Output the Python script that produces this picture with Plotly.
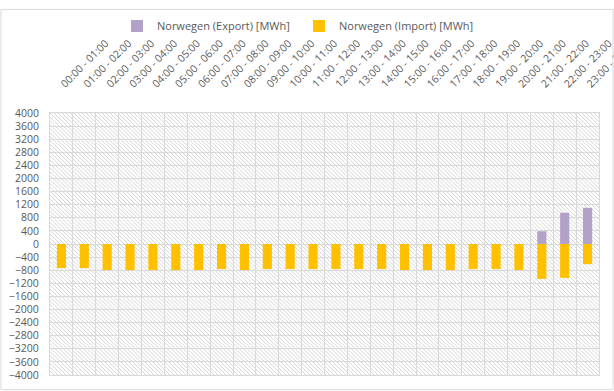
import base64
import plotly.graph_objects as go

hours = ["00:00 - 01:00", "01:00 - 02:00", "02:00 - 03:00", "03:00 - 04:00",
         "04:00 - 05:00", "05:00 - 06:00", "06:00 - 07:00", "07:00 - 08:00",
         "08:00 - 09:00", "09:00 - 10:00", "10:00 - 11:00", "11:00 - 12:00",
         "12:00 - 13:00", "13:00 - 14:00", "14:00 - 15:00", "15:00 - 16:00",
         "16:00 - 17:00", "17:00 - 18:00", "18:00 - 19:00", "19:00 - 20:00",
         "20:00 - 21:00", "21:00 - 22:00", "22:00 - 23:00", "23:00 - 24:00"]

export_mwh = [0, 0, 0, 0, 0, 0, 0, 0, 0, 0, 0, 0,
              0, 0, 0, 0, 0, 0, 0, 0, 0, 390, 955, 1105]
import_mwh = [-735, -735, -795, -795, -795, -795, -795, -765,
              -795, -765, -765, -765, -765, -765, -765, -795,
              -795, -795, -765, -765, -795, -1065, -1035, -615]

y_ticks = list(range(-4000, 4001, 400))

# hatched plot-area background (Excel "light downward diagonal")
svg = ('<svg xmlns="http://www.w3.org/2000/svg" width="549" height="268" '
       'viewBox="0 0 549 268" preserveAspectRatio="none">'
       '<defs><pattern id="p" width="4" height="4" patternUnits="userSpaceOnUse">'
       '<rect width="4" height="4" fill="#ffffff"/>'
       '<path d="M-1,-1 L5,5 M-1,3 L1,5 M3,-1 L5,1" stroke="#d4d4d4" stroke-width="1"/>'
       '</pattern></defs><rect width="549" height="268" fill="url(#p)"/></svg>')
svg_uri = "data:image/svg+xml;base64," + base64.b64encode(svg.encode()).decode()

fig = go.Figure()
fig.add_trace(go.Bar(x=hours, y=export_mwh, name="Norwegen (Export) [MWh]",
                     marker=dict(color="#B3A2C7", line=dict(width=0))))
fig.add_trace(go.Bar(x=hours, y=import_mwh, name="Norwegen (Import) [MWh]",
                     marker=dict(color="#FFC000", line=dict(width=0))))

fig.update_layout(
    width=614, height=391,
    margin=dict(l=50, r=15, t=107, b=16),
    paper_bgcolor="white",
    plot_bgcolor="rgba(0,0,0,0)",
    barmode="relative",
    bargap=0.6,
    font=dict(family="Open Sans", color="#595959", size=11),
    showlegend=True,
    legend=dict(orientation="h", x=0.122, xanchor="left", y=1.332, yanchor="middle",
                font=dict(size=11, color="#595959"), itemwidth=30,
                entrywidth=137, entrywidthmode="pixels",
                traceorder="normal", bgcolor="rgba(0,0,0,0)"),
    xaxis=dict(side="top", tickangle=-45, tickson="boundaries", showgrid=True,
               gridcolor="#d9d9d9", gridwidth=1, showline=True, mirror=True,
               linecolor="#d9d9d9", ticks="", ticklabelstandoff=18, automargin=False,
               tickfont=dict(size=10.5, color="#595959")),
    yaxis=dict(range=[-4000, 4000], tickvals=y_ticks, showgrid=True,
               gridcolor="#d9d9d9", gridwidth=1, zeroline=False, showline=True,
               mirror=True, linecolor="#d9d9d9", ticks="", ticklabelstandoff=8,
               automargin=False, tickfont=dict(size=10.5, color="#595959")),
    images=[dict(source=svg_uri, xref="paper", yref="paper", x=0, y=1,
                 sizex=1, sizey=1, sizing="stretch", layer="below",
                 xanchor="left", yanchor="top")],
    shapes=[dict(type="rect", xref="paper", yref="paper",
                 x0=-0.0893, x1=1.0255, y0=-0.056, y1=1.3955,
                 line=dict(color="#d9d9d9", width=1), fillcolor="rgba(0,0,0,0)")],
)

fig.write_html("out.html", config={"displayModeBar": False},
               post_script="document.body.style.margin='0';document.body.style.padding='0';")
